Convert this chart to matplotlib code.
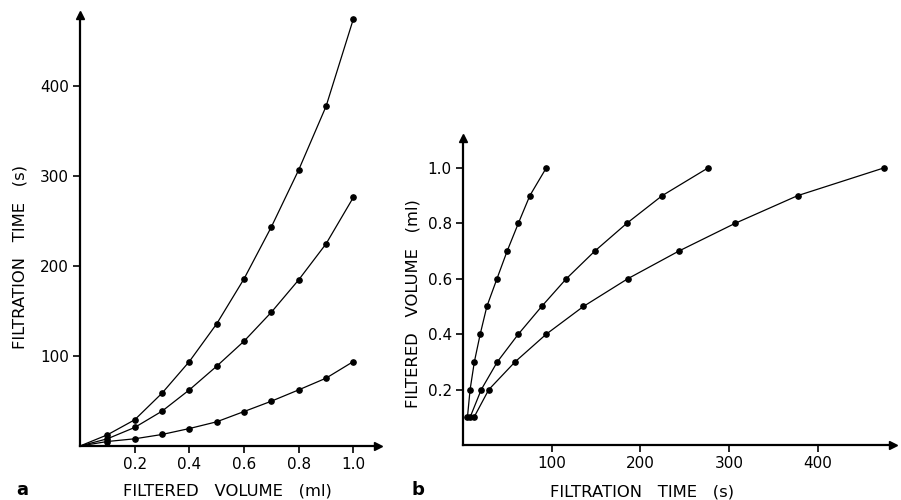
import numpy as np
import matplotlib.pyplot as plt

plt.rcParams['font.family'] = ['DejaVu Sans']

# Daten: Filtrationszeit (s) fuer je 0.1 ml filtriertes Volumen
volumen = [0.1, 0.2, 0.3, 0.4, 0.5, 0.6, 0.7, 0.8, 0.9, 1.0]
zeit_1 = [5, 8, 12.8, 19.4, 26.9, 38.3, 49.8, 62.4, 75.4, 93.9]
zeit_2 = [8, 20.6, 38.7, 62.4, 88.7, 116.5, 148.7, 184.7, 224.7, 276.4]
zeit_3 = [12.4, 29.1, 58.7, 93.9, 135.8, 185.8, 243.5, 306.9, 377.5, 474.7]
reihen = [zeit_1, zeit_2, zeit_3]

xticks_a = [0.2, 0.4, 0.6, 0.8, 1.0]
yticks_a = [100, 200, 300, 400]
xticks_b = [100, 200, 300, 400]
yticks_b = [0.2, 0.4, 0.6, 0.8, 1.0]

W, H = 901, 500
fig = plt.figure(figsize=(W / 100, H / 100), dpi=100)


def achse(ax):
    for s in ['top', 'right']:
        ax.spines[s].set_visible(False)
    for s in ['left', 'bottom']:
        ax.spines[s].set_linewidth(1.6)
    ax.tick_params(direction='out', length=5, width=1.2, labelsize=11, pad=3)
    # Pfeilspitzen
    ax.plot(1, 0, '>k', ms=6, transform=ax.get_yaxis_transform(), clip_on=False)
    ax.plot(0, 1, '^k', ms=6, transform=ax.get_xaxis_transform(), clip_on=False)


# ---------------- a
ax1 = fig.add_axes([80 / W, 1 - 446 / H, (378 - 80) / W, (446 - 15) / H])
for z in reihen:
    ax1.plot([0] + volumen, [0] + z, 'k-', lw=0.9)
    ax1.plot(volumen, z, 'ko', ms=3.8)
ax1.set_xlim(0, 1.09)
ax1.set_ylim(0, 479)
ax1.set_xticks(xticks_a)
ax1.set_xticklabels(['%.1f' % v for v in xticks_a])
ax1.set_yticks(yticks_a)
achse(ax1)
fig.text(20 / W, 1 - 257 / H, 'FILTRATION   TIME   (s)', ha='center', va='center',
         rotation=90, fontsize=11.8)
fig.text(227 / W, 1 - 491 / H, 'FILTERED   VOLUME   (ml)', ha='center', va='center', fontsize=11.8)
fig.text(22 / W, 1 - 490 / H, 'a', ha='center', va='center', fontsize=13, fontweight='bold')

# ---------------- b
ax2 = fig.add_axes([463 / W, 1 - 445 / H, (893 - 463) / W, (445 - 138) / H])
for z in reihen:
    ax2.plot(z, volumen, 'k-', lw=0.9)
    ax2.plot(z, volumen, 'ko', ms=3.8)
ax2.set_xlim(0, 485)
ax2.set_ylim(0, 1.108)
ax2.set_xticks(xticks_b)
ax2.set_yticks(yticks_b)
ax2.set_yticklabels(['%.1f' % v for v in yticks_b])
achse(ax2)
fig.text(413 / W, 1 - 304 / H, 'FILTERED   VOLUME   (ml)', ha='center', va='center',
         rotation=90, fontsize=11.8)
fig.text(642 / W, 1 - 492 / H, 'FILTRATION   TIME   (s)', ha='center', va='center', fontsize=11.8)
fig.text(418 / W, 1 - 490 / H, 'b', ha='center', va='center', fontsize=13, fontweight='bold')

fig.savefig('out.png', dpi=100)
